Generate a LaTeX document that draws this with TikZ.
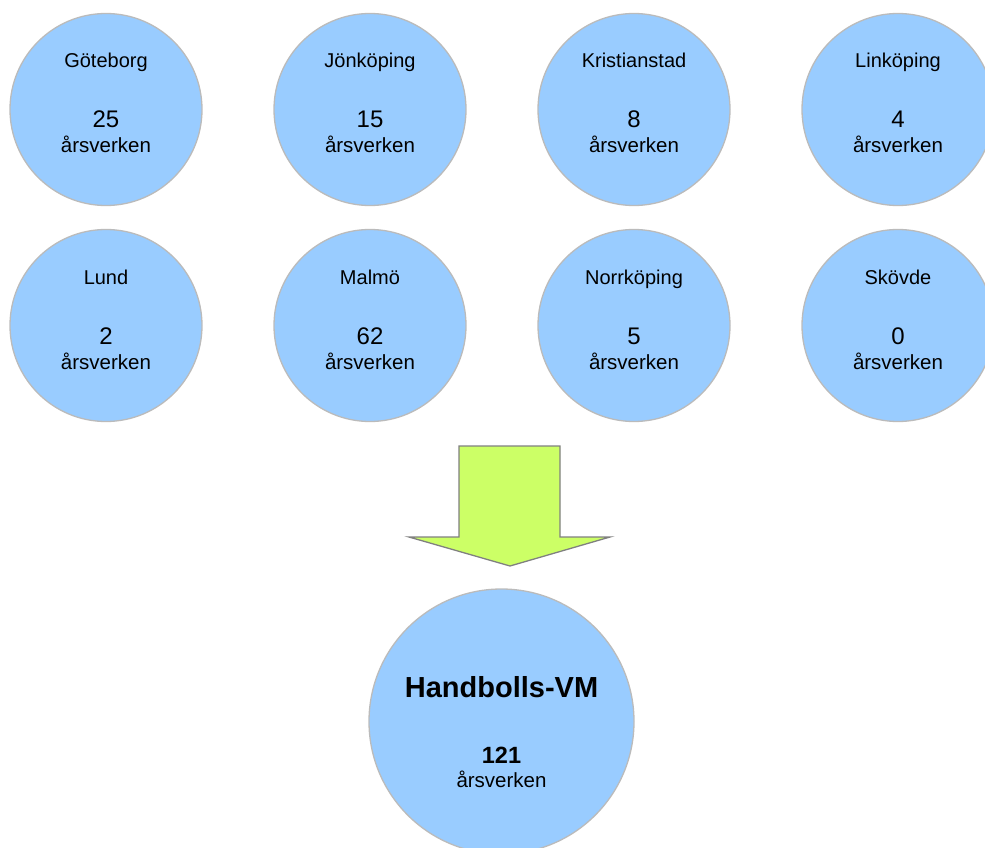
\documentclass[tikz,border=0pt]{standalone}
\usepackage{fontspec}
\setmainfont{Liberation Sans}
\definecolor{cfill}{HTML}{99CCFF}
\definecolor{cedge}{HTML}{BBBBBB}
\definecolor{afill}{HTML}{CCFF66}
\definecolor{aedge}{HTML}{808080}
\begin{document}
\begin{tikzpicture}[x=1pt,y=-1pt,
  city/.style={circle,fill=cfill,draw=cedge,line width=1.3pt,minimum size=192pt,inner sep=0pt},
  big/.style={circle,fill=cfill,draw=cedge,line width=1.3pt,minimum size=265pt,inner sep=0pt},
  nametxt/.style={anchor=base,inner sep=0pt,font=\fontsize{20}{24}\selectfont},
  numtxt/.style={anchor=base,inner sep=0pt,font=\fontsize{24}{28}\selectfont},
  unittxt/.style={anchor=base,inner sep=0pt,font=\fontsize{20.5}{24}\selectfont},
  arrowshape/.style={fill=afill,draw=aedge,line width=1.3pt,line join=miter}]
\useasboundingbox (0,0) rectangle (985,848);
\foreach \id/\x/\y/\nm/\n in {g/106/109.5/Göteborg/25, j/370/109.5/Jönköping/15, k/634/109.5/Kristianstad/8, li/898/109.5/Linköping/4,
  lu/106/325.5/Lund/2, m/370/325.5/Malmö/62, n/634/325.5/Norrköping/5, s/898/325.5/Skövde/0}{
  \node[city] (\id) at (\x,\y) {};
  \node[nametxt] (\id-name) at ([yshift=41.5pt]\id.center) {\nm};
  \node[numtxt] (\id-num) at ([yshift=-18.5pt]\id.center) {\n};
  \node[unittxt] (\id-unit) at ([yshift=-43.5pt]\id.center) {årsverken};
}
\draw[arrowshape] (459,446) -- (560,446) -- (560,537) -- (610,537) -- (510,566) -- (409,537) -- (459,537) -- cycle;
\node[big] (vm) at (501.5,721.5) {};
\node[anchor=base,inner sep=0pt,font=\bfseries\fontsize{29}{34}\selectfont] (vm-name) at ([yshift=24.5pt]vm.center) {Handbolls-VM};
\node[anchor=base,inner sep=0pt,font=\bfseries\fontsize{23.5}{28}\selectfont] (vm-num) at ([yshift=-41.5pt]vm.center) {121};
\node[unittxt] (vm-unit) at ([yshift=-65.5pt]vm.center) {årsverken};
\end{tikzpicture}
\end{document}
